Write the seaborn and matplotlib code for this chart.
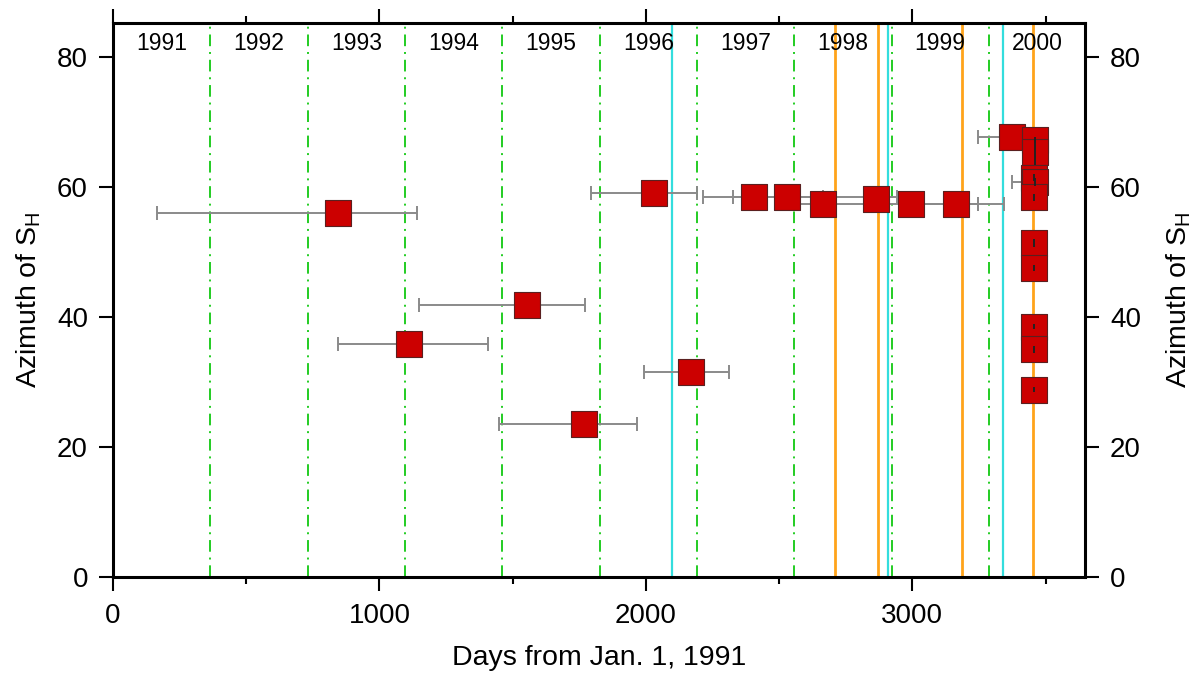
import matplotlib
matplotlib.use("Agg")
import matplotlib.pyplot as plt
from matplotlib.ticker import MultipleLocator
import seaborn as sns
import pandas as pd
import numpy as np

# ---------------- data ----------------
days = [844, 1111, 1553, 1767, 2030, 2169, 2405, 2529, 2664, 2863, 2994, 3163,
        3373, 3460, 3460, 3458, 3460, 3456, 3456, 3456, 3456, 3456, 3456]
azimuth = [56.0, 35.9, 41.8, 23.5, 59.1, 31.5, 58.4, 58.4, 57.4, 58.2, 57.4, 57.4,
           67.6, 67.2, 65.3, 61.4, 60.8, 58.4, 51.4, 47.5, 38.5, 35.0, 28.8]
x_low = [165, 844, 1148, 1448, 1794, 1993, 2214, 2326, 2578, 2863, 2994, 2950,
         3246, 3460, 3460, 3458, 3373, 3456, 3456, 3456, 3456, 3456, 3456]
x_high = [1141, 1406, 1771, 1966, 2192, 2311, 2664, 2942, 3246, 2863, 3246, 3343,
          3460, 3460, 3460, 3458, 3460, 3456, 3456, 3456, 3456, 3456, 3456]
y_err = [0, 0, 0, 0, 0, 0, 0, 0, 0, 0, 0, 0,
         0, 0.5, 2.0, 0.5, 0.6, 0.5, 0.6, 0.5, 0.4, 0.6, 0.4]

year_labels = ["1991", "1992", "1993", "1994", "1995", "1996", "1997", "1998", "1999", "2000"]
year_bounds = [0, 365, 731, 1096, 1461, 1826, 2192, 2557, 2922, 3287, 3653]
cyan_days = [2098, 2908, 3340]
orange_days = [2709, 2871, 3186, 3452]
y_ticks = [0, 20, 40, 60, 80]

df = pd.DataFrame({"days": days, "azimuth": azimuth,
                   "x_low": x_low, "x_high": x_high, "y_err": y_err})

# ---------------- style ----------------
sns.set_theme(style="ticks")
plt.rcParams["font.family"] = ["Liberation Sans", "DejaVu Sans"]
plt.rcParams["text.color"] = "black"
plt.rcParams["axes.labelcolor"] = "black"
plt.rcParams["xtick.color"] = "black"
plt.rcParams["ytick.color"] = "black"

fig = plt.figure(figsize=(12.02, 6.74), dpi=100)
ax = fig.add_axes([0.094, 0.1439, 0.8087, 0.822])

# vertical reference lines
for b in year_bounds[1:-1]:
    ax.axvline(b, color="#22cc22", lw=1.4, ls=(0, (6, 3, 1, 3)), zorder=1)
for c in cyan_days:
    ax.axvline(c, color="#33dddd", lw=1.6, zorder=1)
for o in orange_days:
    ax.axvline(o, color="#ffa31a", lw=2.0, zorder=1)

# error bars
xerr = np.vstack([df["days"] - df["x_low"], df["x_high"] - df["days"]])
ax.errorbar(df["days"], df["azimuth"], xerr=xerr, fmt="none",
            ecolor="#8a8a8a", elinewidth=1.4, capsize=5, capthick=1.4, zorder=2)

# markers
sns.scatterplot(data=df, x="days", y="azimuth", marker="s", s=330,
                color="#cc0000", edgecolor="#5a2020", linewidth=0.8,
                ax=ax, zorder=3, legend=False)
# small vertical error bars drawn over the squares
ax.errorbar(df["days"], df["azimuth"], yerr=df["y_err"], fmt="none",
            ecolor="#222222", elinewidth=1.4, capsize=0, zorder=5)

# year labels
for i, lab in enumerate(year_labels):
    mid = (year_bounds[i] + year_bounds[i + 1]) / 2
    ax.text(mid, 82.0, lab, ha="center", va="center", fontsize=16.5, zorder=6)

ax.set_xlim(0, 3648)
ax.set_ylim(0, 85.2)
ax.xaxis.set_major_locator(MultipleLocator(1000))
ax.xaxis.set_minor_locator(MultipleLocator(500))
ax.set_yticks(y_ticks)

for s in ax.spines.values():
    s.set_visible(True)
    s.set_linewidth(2.2)
    s.set_color("black")

ax.tick_params(axis="x", which="major", direction="out", length=10, width=1.5,
               labelsize=20, top=True, bottom=True, pad=9)
ax.tick_params(axis="x", which="minor", direction="out", length=5, width=1.5,
               top=True, bottom=True)
ax.tick_params(axis="y", which="major", direction="out", length=10, width=1.5,
               labelsize=20, left=True, right=False, pad=8)

ax.set_xlabel("Days from Jan. 1, 1991", fontsize=20.5, labelpad=11)
ax.set_ylabel("Azimuth of S$_\\mathregular{H}$", fontsize=20.5, labelpad=10)

ax2 = ax.twinx()
ax2.set_ylim(ax.get_ylim())
ax2.set_yticks(y_ticks)
for s in ax2.spines.values():
    s.set_visible(False)
ax2.tick_params(axis="y", which="major", direction="out", length=10, width=1.5,
                labelsize=20, right=True, labelright=True, pad=8)
ax2.set_ylabel("Azimuth of S$_\\mathregular{H}$", fontsize=20.5, labelpad=17)

fig.savefig("out.png", dpi=100)
